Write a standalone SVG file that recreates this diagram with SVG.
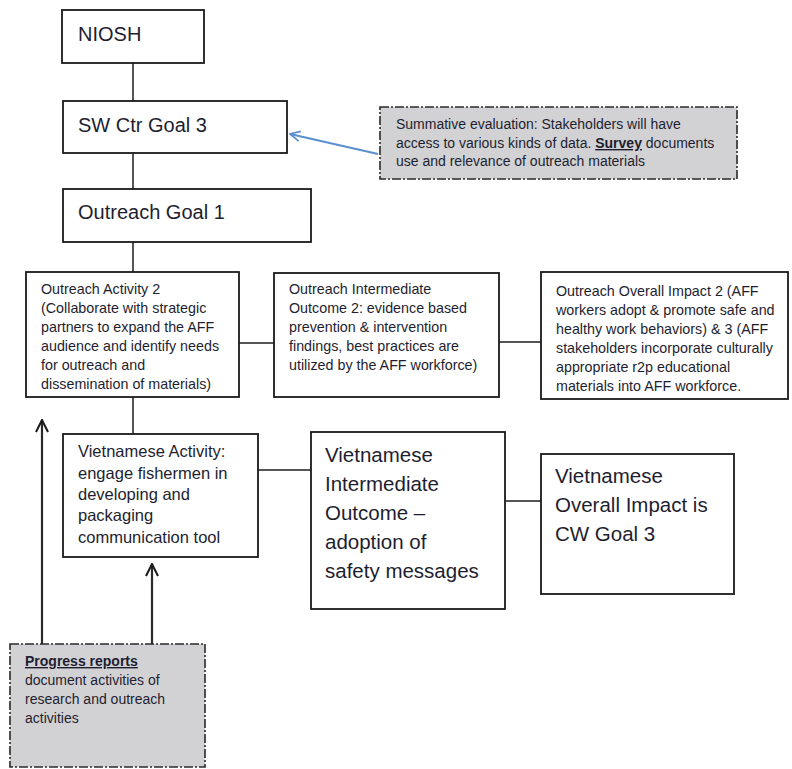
<svg xmlns="http://www.w3.org/2000/svg" width="792" height="769" viewBox="0 0 792 769">
<defs>
<style>
.box{fill:#fff;stroke:#1a1a1a;stroke-width:1.8}
.note{fill:#d2d2d4;stroke:#2a2a2a;stroke-width:1.6;stroke-dasharray:9 2 2 2}
.conn{stroke:#555;stroke-width:2;fill:none}
.t{font-family:"Liberation Sans",Arial,sans-serif;fill:#1e1e30}
.big{font-size:20px}
.med{font-size:16.5px}
.vi{font-size:20.5px}
.sm{font-size:14.3px}
.nt{font-size:14px}
</style>
<marker id="blueHead" viewBox="0 0 12 12" refX="11" refY="6" markerWidth="12" markerHeight="12" markerUnits="userSpaceOnUse" orient="auto">
<path d="M1 1 L11 6 L1 11" fill="none" stroke="#5b8fd0" stroke-width="1.8"/>
</marker>
<marker id="blackHead" viewBox="0 0 14 14" refX="13" refY="7" markerWidth="14" markerHeight="14" markerUnits="userSpaceOnUse" orient="auto">
<path d="M1 1 L13 7 L1 13" fill="none" stroke="#1a1a1a" stroke-width="2"/>
</marker>
</defs>
<rect width="792" height="769" fill="#fff"/>

<g id="connectors">
<line class="conn" x1="133" y1="63" x2="133" y2="101"/>
<line class="conn" x1="133" y1="153" x2="133" y2="189"/>
<line class="conn" x1="133" y1="242" x2="133" y2="272"/>
<line class="conn" x1="239" y1="343" x2="274" y2="343"/>
<line class="conn" x1="499" y1="342" x2="541" y2="342"/>
<line class="conn" x1="133" y1="397" x2="133" y2="434"/>
<line class="conn" x1="258" y1="470" x2="311" y2="470"/>
<line class="conn" x1="505" y1="501" x2="541" y2="501"/>
<line x1="378" y1="154" x2="290" y2="134" stroke="#5b8fd0" stroke-width="2" marker-end="url(#blueHead)"/>
<line x1="42" y1="644" x2="42" y2="420" stroke="#2a2a2a" stroke-width="2.2" marker-end="url(#blackHead)"/>
<line x1="152" y1="644" x2="152" y2="564" stroke="#2a2a2a" stroke-width="2.2" marker-end="url(#blackHead)"/>
</g>

<g id="niosh">
<rect class="box" x="62" y="10" width="142" height="53"/>
<text class="t big" x="78" y="41" font-size="19">NIOSH</text>
</g>

<g id="sw-ctr-goal-3">
<rect class="box" x="63" y="101" width="224" height="52"/>
<text class="t big" x="78" y="132">SW Ctr Goal 3</text>
</g>

<g id="outreach-goal-1">
<rect class="box" x="63" y="189" width="248" height="53"/>
<text class="t big" x="78" y="219">Outreach Goal 1</text>
</g>

<g id="summative-evaluation">
<rect class="note" x="380" y="107" width="357" height="72"/>
<text class="t nt" x="396" y="129">Summative evaluation: Stakeholders will have</text>
<text class="t nt" x="396" y="148">access to various kinds of data.  <tspan font-weight="bold" text-decoration="underline">Survey</tspan> documents</text>
<text class="t nt" x="396" y="166">use and relevance of outreach materials</text>
</g>

<g id="outreach-activity-2">
<rect class="box" x="26" y="272" width="213" height="125"/>
<text class="t sm" x="41" y="294">Outreach Activity 2</text>
<text class="t sm" x="41" y="313">(Collaborate with strategic</text>
<text class="t sm" x="41" y="332">partners to expand the AFF</text>
<text class="t sm" x="41" y="351">audience and identify needs</text>
<text class="t sm" x="41" y="370">for outreach and</text>
<text class="t sm" x="41" y="389">dissemination of materials)</text>
</g>

<g id="outreach-intermediate-outcome-2">
<rect class="box" x="274" y="273" width="225" height="124"/>
<text class="t sm" x="289" y="294">Outreach Intermediate</text>
<text class="t sm" x="289" y="313">Outcome 2:  evidence based</text>
<text class="t sm" x="289" y="332">prevention &amp; intervention</text>
<text class="t sm" x="289" y="351">findings, best practices are</text>
<text class="t sm" x="289" y="370">utilized by the AFF workforce)</text>
</g>

<g id="outreach-overall-impact-2">
<rect class="box" x="541" y="272" width="247" height="127"/>
<text class="t sm" x="556" y="296">Outreach Overall Impact 2 (AFF</text>
<text class="t sm" x="556" y="315">workers adopt &amp; promote safe and</text>
<text class="t sm" x="556" y="334">healthy work behaviors) &amp; 3 (AFF</text>
<text class="t sm" x="556" y="353">stakeholders incorporate culturally</text>
<text class="t sm" x="556" y="372">appropriate r2p educational</text>
<text class="t sm" x="556" y="391">materials into AFF workforce.</text>
</g>

<g id="vietnamese-activity">
<rect class="box" x="63" y="434" width="195" height="123"/>
<text class="t med" x="78" y="457">Vietnamese Activity:</text>
<text class="t med" x="78" y="479">engage fishermen in</text>
<text class="t med" x="78" y="500">developing and</text>
<text class="t med" x="78" y="521">packaging</text>
<text class="t med" x="78" y="543">communication tool</text>
</g>

<g id="vietnamese-intermediate-outcome">
<rect class="box" x="311" y="432" width="194" height="177"/>
<text class="t vi" x="325" y="462">Vietnamese</text>
<text class="t vi" x="325" y="491">Intermediate</text>
<text class="t vi" x="325" y="520">Outcome –</text>
<text class="t vi" x="325" y="549">adoption of</text>
<text class="t vi" x="325" y="578">safety messages</text>
</g>

<g id="vietnamese-overall-impact">
<rect class="box" x="541" y="454" width="193" height="140"/>
<text class="t vi" x="555" y="483">Vietnamese</text>
<text class="t vi" x="555" y="512">Overall Impact is</text>
<text class="t vi" x="555" y="541">CW Goal 3</text>
</g>

<g id="progress-reports">
<rect class="note" x="10" y="644" width="195" height="123"/>
<text class="t nt" x="25" y="666" font-weight="bold" text-decoration="underline">Progress reports</text>
<text class="t nt" x="25" y="685">document activities of</text>
<text class="t nt" x="25" y="704">research and outreach</text>
<text class="t nt" x="25" y="723">activities</text>
</g>
</svg>
